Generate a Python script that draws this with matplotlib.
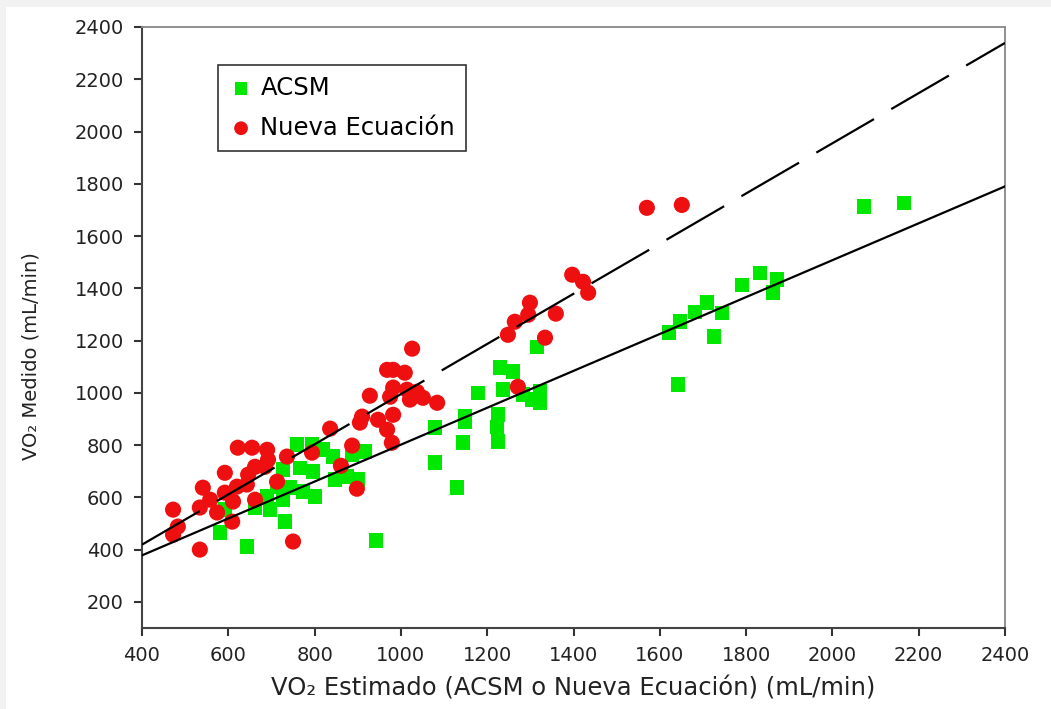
import matplotlib
matplotlib.use("Agg")
import matplotlib.pyplot as plt
import numpy as np
from matplotlib.patches import Rectangle

# ACSM estimate vs measured VO2 (mL/min)
acsm_x = [2073, 2166, 1832, 1790, 1872, 1862, 1709, 1682, 1744, 1647, 1621, 1726, 1642,
          1315, 1230, 1260, 1179, 1322, 1283, 1304, 1322, 1237, 1149, 1149, 1225, 1223,
          1225, 1144, 1130, 1079, 1079, 942,
          759, 794, 819, 843, 887, 917, 727, 766, 796, 847, 875, 900, 713, 743, 773,
          801, 727, 690, 697, 731, 592, 581, 643, 662]
acsm_y = [1712, 1727, 1459, 1413, 1433, 1383, 1345, 1310, 1306, 1272, 1230, 1215, 1031,
          1176, 1096, 1081, 1000, 1004, 993, 974, 962, 1012, 912, 890, 916, 870,
          813, 809, 637, 867, 733, 434,
          802, 802, 783, 756, 764, 775, 706, 713, 698, 668, 679, 668, 641, 637, 622,
          603, 591, 603, 553, 507, 553, 465, 412, 561]

# new equation estimate vs measured VO2 (mL/min)
nueva_x = [1570, 1651, 1397, 1422, 1434, 1299, 1295, 1359, 1264, 1248, 1334, 1271, 1084,
           1026, 968, 982, 1009, 928, 982, 975, 1014, 1037, 1021, 1051,
           982, 947, 968, 979, 910, 905, 836, 887, 861, 898, 794, 736, 750,
           622, 655, 690, 692, 685, 713, 662, 646, 643, 592, 592, 620, 611, 662,
           541, 558, 534, 574, 609, 472, 483, 472, 534]
nueva_y = [1708, 1719, 1452, 1425, 1383, 1345, 1299, 1303, 1272, 1222, 1211, 1023, 962,
           1169, 1088, 1088, 1077, 989, 1020, 985, 1012, 1004, 974, 981,
           916, 897, 859, 809, 909, 886, 863, 798, 721, 633, 771, 756, 431,
           790, 790, 782, 744, 717, 660, 717, 687, 649, 694, 618, 641, 584, 591,
           637, 591, 561, 542, 507, 553, 488, 457, 400]

# regression lines: intercept at x=400 and slope
line_x = [400, 2400]
acsm_fit = (378, 0.706)
nueva_fit = (419, 0.96)

xticks = np.arange(400, 2401, 200)
yticks = np.arange(200, 2401, 200)

fig = plt.figure(figsize=(10.51, 7.09), dpi=100, facecolor="#f2f2f2")
fig.patches.append(Rectangle((6 / 1051, 0), 1, 1 - 7 / 709, transform=fig.transFigure,
                             facecolor="white", edgecolor="none", zorder=-5))
ax = fig.add_axes([142 / 1051, 1 - 628 / 709, 863 / 1051, 601 / 709])
ax.set_facecolor("white")

lx = np.array(line_x, dtype=float)
ax.plot(lx, acsm_fit[0] + acsm_fit[1] * (lx - 400), color="black", lw=1.6, zorder=3)
ax.plot(lx, nueva_fit[0] + nueva_fit[1] * (lx - 400), color="black", lw=1.6,
        linestyle=(0, (30, 9)), zorder=3)

ax.scatter(acsm_x, acsm_y, marker="s", s=110, color="#00e800", edgecolors="none",
           label="ACSM", zorder=2)
ax.scatter(nueva_x, nueva_y, marker="o", s=135, color="#ee1010", edgecolors="none",
           label="Nueva Ecuación", zorder=2)

ax.set_xlim(400, 2400)
ax.set_ylim(100, 2400)
ax.set_xticks(xticks)
ax.set_yticks(yticks)
ax.tick_params(direction="out", length=6, width=1.5, color="#333333",
               labelsize=14, labelcolor="#222222", pad=7)

for side in ["left", "bottom"]:
    ax.spines[side].set_color("#444444")
    ax.spines[side].set_linewidth(1.5)
for side in ["top", "right"]:
    ax.spines[side].set_color("#888888")
    ax.spines[side].set_linewidth(1.3)

ax.set_xlabel("VO₂ Estimado (ACSM o Nueva Ecuación) (mL/min)", fontsize=17.5,
              color="#222222", labelpad=8)
ax.set_ylabel("VO₂ Medido (mL/min)", fontsize=14, color="#222222")
ax.yaxis.set_label_coords(-0.118, 0.453)

leg = ax.legend(loc="upper left", bbox_to_anchor=(0.088, 0.937), borderaxespad=0,
                frameon=True, fancybox=False, edgecolor="black", fontsize=17.5,
                labelspacing=0.65, handletextpad=0.3, borderpad=0.45,
                handlelength=1.0, markerscale=0.85)
leg.get_frame().set_linewidth(1.2)

fig.savefig("out.png", dpi=100, facecolor=fig.get_facecolor())
